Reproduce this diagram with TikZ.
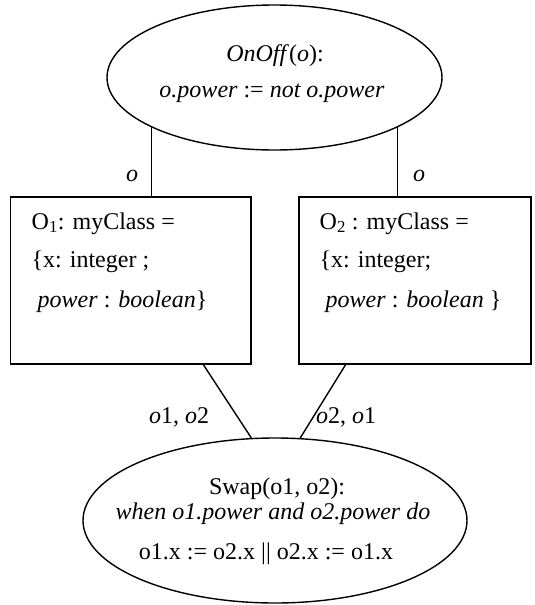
\documentclass[tikz,border=0pt]{standalone}
\usepackage{fontspec}
\setmainfont{Liberation Serif}[ItalicFont={Liberation Serif Italic},BoldFont={Liberation Serif Bold}]
\usetikzlibrary{shapes.geometric,calc}
\begin{document}
\begin{tikzpicture}[x=1pt,y=-1pt, line width=1.4pt,
  every node/.style={font=\fontsize{24}{28}\selectfont},
  oval/.style={draw, ellipse, inner sep=0pt},
  objbox/.style={draw, rectangle, inner sep=0pt},
  txt/.style={anchor=base, inner sep=0pt},
  txtl/.style={anchor=base west, inner sep=0pt}]
\useasboundingbox (0,0) rectangle (535,605);
% shapes
\node[oval, minimum width=335, minimum height=145] (top) at (274.5,77.5) {};
\node[oval, minimum width=384, minimum height=165] (bot) at (275,520.5) {};
\node[objbox, minimum width=240.3, minimum height=167] (b1) at (130.85,280.5) {};
\node[objbox, minimum width=232, minimum height=167] (b2) at (415,280.5) {};
% top ellipse text
\node[txt] (t1) at (275,61) {\textit{OnOff}(\textit{o}):};
\node[txt] (t2) at (272,97) {\textit{o.power} := \textit{not o.power}};
% bottom ellipse text
\node[txt] (s1) at (277,494) {Swap(o1, o2):};
\node[txt] (s2) at (273,519) {\textit{when o1.power and o2.power do}};
\node[txt] (s3) at (266,559) {o1.x := o2.x || o2.x := o1.x};
% box texts
\node[txtl] (l1) at (31,229) {O\textsubscript{1}: myClass =};
\node[txtl] (l2) at (31,267) {\{x: integer ;};
\node[txtl] (l3) at (31,307) {\ \textit{power} : \textit{boolean}\}};
\node[txtl] (r1) at (319,229) {O\textsubscript{2} : myClass =};
\node[txtl] (r2) at (319,267) {\{x: integer;};
\node[txtl] (r3) at (319,307) {\ \textit{power} : \textit{boolean} \}};
% connectors
\draw (top.202.8) -- (top.202.8 |- b1.north);
\draw (top.-22.8) -- (top.-22.8 |- b2.north);
\draw ($(b1.south west)!0.80!(b1.south east)$) -- (bot.106.3);
\draw ($(b2.south west)!0.2026!(b2.south east)$) -- (bot.73.7);
% connector labels
\node[txt] (lo1) at (132,181.5) {\textit{o}};
\node[txt] (lo2) at (419,181.5) {\textit{o}};
\node[txt] (lb1) at (179,423) {\textit{o}1, \textit{o}2};
\node[txt] (lb2) at (346,423) {\textit{o}2, \textit{o}1};
\end{tikzpicture}
\end{document}
